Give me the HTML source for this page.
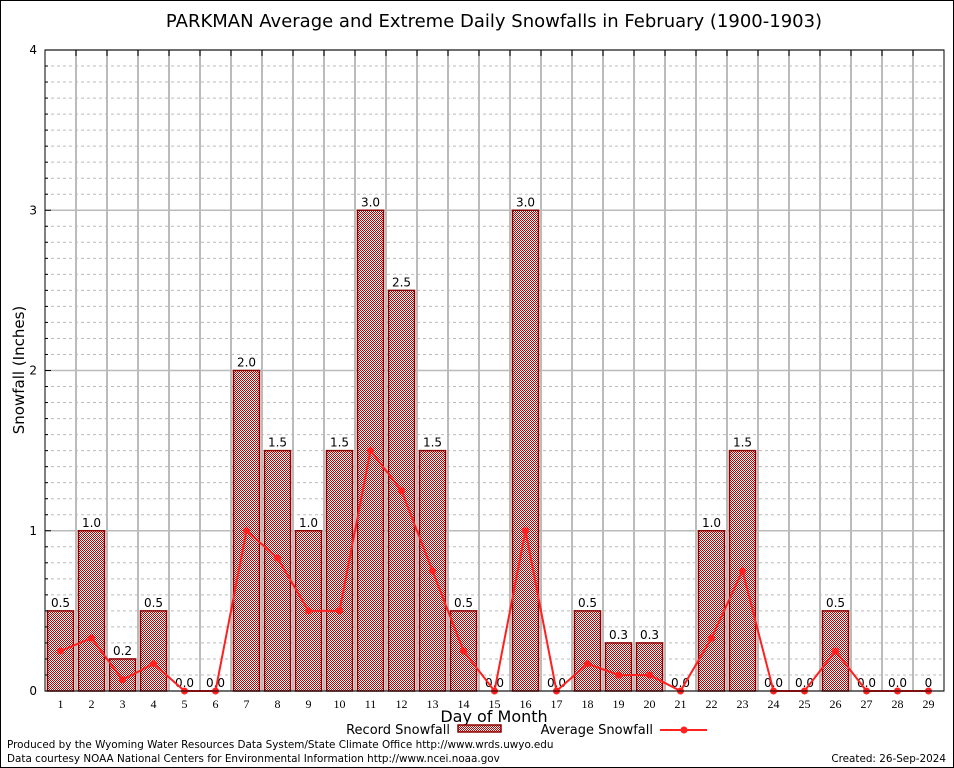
<!DOCTYPE html>
<html><head><meta charset="utf-8"><style>
body{margin:0;background:#fff}
svg{display:block;font-family:"DejaVu Sans","Liberation Sans",sans-serif}
</style></head><body>
<svg id="chart" width="954" height="768" viewBox="0 0 954 768">
<defs>
<pattern id="chk" width="2" height="2" patternUnits="userSpaceOnUse">
<rect width="2" height="2" fill="#fff"/><rect width="1" height="1" fill="#c00000"/><rect x="1" y="1" width="1" height="1" fill="#c00000"/>
</pattern>
</defs>
<rect x="0.5" y="0.5" width="953" height="767" fill="#fff" stroke="#000"/>
<text x="494" y="27" font-size="18" text-anchor="middle">PARKMAN Average and Extreme Daily Snowfalls in February (1900-1903)</text>
<g id="grid"></g>
<g id="bars"></g>
<g id="line"></g>
<g id="axes"></g>
<text transform="translate(24,370) rotate(-90)" font-size="15" text-anchor="middle">Snowfall (Inches)</text>
<text x="494" y="722" font-size="16" text-anchor="middle">Day of Month</text>
<g>
<text x="450" y="734" font-size="13" text-anchor="end">Record Snowfall</text>
<rect x="458" y="725" width="43" height="7" fill="url(#chk)" stroke="#8b0000" stroke-width="1.5"/>
<text x="653" y="734" font-size="13" text-anchor="end">Average Snowfall</text>
<line x1="660" y1="730" x2="707" y2="730" stroke="#ff2020" stroke-width="2"/>
<circle cx="684" cy="730" r="3.5" fill="#ff2020"/>
</g>
<text x="7" y="748" font-size="10.4">Produced by the Wyoming Water Resources Data System/State Climate Office http://www.wrds.uwyo.edu</text>
<text x="7" y="762" font-size="10.4">Data courtesy NOAA National Centers for Environmental Information http://www.ncei.noaa.gov</text>
<text x="946" y="762" font-size="10.4" text-anchor="end">Created:  26-Sep-2024</text>
</svg>
<script>
const days = [1,2,3,4,5,6,7,8,9,10,11,12,13,14,15,16,17,18,19,20,21,22,23,24,25,26,27,28,29];
const recordValues = [0.5,1.0,0.2,0.5,0,0,2.0,1.5,1.0,1.5,3.0,2.5,1.5,0.5,0,3.0,0,0.5,0.3,0.3,0,1.0,1.5,0,0,0.5,0,0,0];
const recordLabels = ["0.5","1.0","0.2","0.5","0.0","0.0","2.0","1.5","1.0","1.5","3.0","2.5","1.5","0.5","0.0","3.0","0.0","0.5","0.3","0.3","0.0","1.0","1.5","0.0","0.0","0.5","0.0","0.0","0"];
const averageValues = [0.25,0.33,0.07,0.17,0,0,1.0,0.83,0.5,0.5,1.5,1.25,0.75,0.25,0,1.0,0,0.17,0.1,0.1,0,0.33,0.75,0,0,0.25,0,0,0];
const yTicks = [0,1,2,3,4];

const L=45,R=944,T=50,B=691,N=days.length,YMAX=4;
const slot=(R-L)/N;
const x=d=>L+(d-0.5)*slot;
const y=v=>B-(v/YMAX)*(B-T);
const NS="http://www.w3.org/2000/svg";
function mk(tag,attrs,parent,txt){const e=document.createElementNS(NS,tag);for(const k in attrs)e.setAttribute(k,attrs[k]);if(txt!==undefined)e.textContent=txt;parent.appendChild(e);return e;}
const grid=document.getElementById('grid'),bars=document.getElementById('bars'),line=document.getElementById('line'),axes=document.getElementById('axes');
for(let i=1;i<YMAX*10;i++){if(i%10===0)continue;const g=mk('line',{x1:L,x2:R,y1:y(i/10),y2:y(i/10),stroke:'#bbb','stroke-dasharray':'3,3'},grid);

}
yTicks.forEach(t=>{const g=mk('line',{x1:L,x2:R,y1:y(t),y2:y(t),stroke:'#bbb','stroke-width':1.5},grid);


const lb=mk('text',{x:L-8,y:y(t)+4,'font-size':12,'text-anchor':'end'},axes,String(t));


const tk=mk('line',{x1:L,x2:L+6,y1:y(t),y2:y(t),stroke:'#000'},axes);

});
for(let i=1;i<YMAX*10;i++){if(i%10===0)continue;const tk=mk('line',{x1:L,x2:L+3,y1:y(i/10),y2:y(i/10),stroke:'#000'},axes);

}
for(let i=1;i<N;i++){const xx=L+i*slot;const g=mk('line',{x1:xx,x2:xx,y1:T,y2:B,stroke:'#bbb','stroke-width':2},grid);


const tk=mk('line',{x1:xx,x2:xx,y1:T,y2:T+6,stroke:'#000'},axes);

}
days.forEach((d,i)=>{const v=recordValues[i];const bw=26;
if(v>0){const r=mk('rect',{x:x(d)-bw/2,y:y(v),width:bw,height:B-y(v),fill:'url(#chk)',stroke:'#8b0000','stroke-width':1.5},bars);

}
const lb=mk('text',{x:x(d),y:y(v)-4,'font-size':12,'text-anchor':'middle'},bars,recordLabels[i]);


const xl=mk('text',{x:x(d),y:B+17,'font-size':12,'text-anchor':'middle','font-family':'"Liberation Serif",serif'},axes,String(d));

});
const pl=mk('polyline',{points:days.map((d,i)=>x(d)+','+y(averageValues[i])).join(' '),fill:'none',stroke:'#ff2020','stroke-width':2},line);


days.forEach((d,i)=>{const c=mk('circle',{cx:x(d),cy:y(averageValues[i]),r:3.5,fill:'#ff2020'},line);

});
const fr=mk('rect',{x:L,y:T,width:R-L,height:B-T,fill:'none',stroke:'#000'},axes);


</script>
</body></html>
